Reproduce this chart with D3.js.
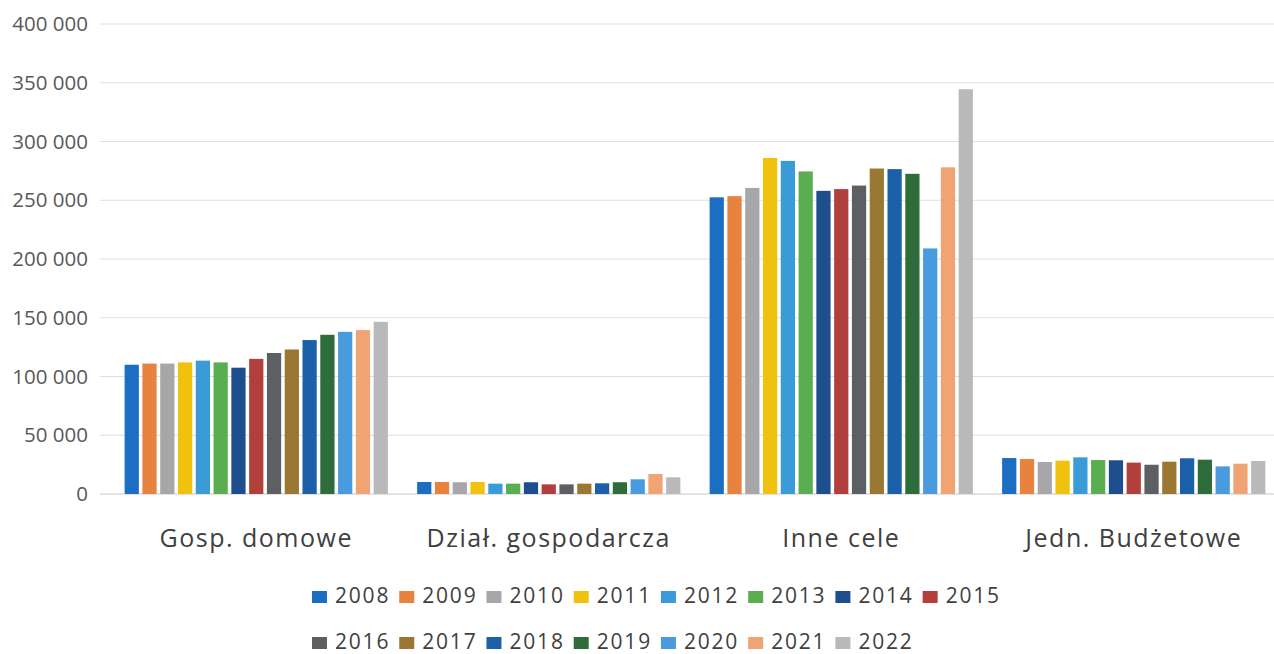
<!DOCTYPE html>
<html><head><meta charset="utf-8">
<script src="https://cdn.jsdelivr.net/npm/d3@7"></script>
<style>body{margin:0;background:#fff}svg{display:block}text{font-family:"Open Sans",sans-serif}</style>
</head><body><svg id="c" width="1274" height="654"></svg>
<script>
const categories = ["Gosp. domowe","Dział. gospodarcza","Inne cele","Jedn. Budżetowe"];
const years = ["2008","2009","2010","2011","2012","2013","2014","2015","2016","2017","2018","2019","2020","2021","2022"];
const gospDomowe = [110000,111000,111000,112000,113500,112000,107500,115000,120000,123000,131000,135500,138000,139500,146500];
const dzialGosp = [10200,10200,10000,10200,8800,8800,10000,8200,8200,8800,9100,10000,12500,17000,14200];
const inneCele = [252500,253500,260500,286000,283500,274500,258000,259500,262500,277000,276500,272500,209000,278000,344500];
const jednBudz = [30600,29800,27200,28400,31200,28900,28700,26700,24900,27500,30400,29200,23500,25800,28100];
const seriesByCategory = [gospDomowe, dzialGosp, inneCele, jednBudz];
const yTicks = [0,50000,100000,150000,200000,250000,300000,350000,400000];
const colors = ["#1b6ec2","#e8823f","#a7a7a9","#f0c20e","#3b9bd8","#5bad51","#1f4e8e","#b1403c","#5e5f63","#9a7834","#1c60aa","#2e6c3b","#4a9ade","#f0a474","#b9b8ba"];

const svg = d3.select("#c");
const x0 = d3.scaleBand().domain(categories).range([110,1280]).paddingInner(0.1).paddingOuter(0.05);
const x1 = d3.scaleBand().domain(years).range([0,x0.bandwidth()]).paddingInner(0.2).paddingOuter(0);
const y = d3.scaleLinear().domain([0,400000]).range([494,24]);
const fmt = v => d3.format(",")(v).replace(/,/g," ");

// grid
svg.append("g").selectAll("line").data(yTicks).join("line")
  .attr("x1",100).attr("x2",1274).attr("y1",d=>y(d)).attr("y2",d=>y(d))
  .attr("stroke",d=>d===0?"#c8c8c8":"#dedede").attr("stroke-width",1);

// y axis labels
const yAxis = d3.axisLeft(y).tickValues(yTicks).tickFormat(fmt).tickSize(0).tickPadding(0);
const ga = svg.append("g").attr("transform","translate(88,0)").call(yAxis);
ga.select(".domain").remove();
ga.selectAll("text").attr("font-size",20.5).attr("fill","#595959").attr("font-family","'Open Sans',sans-serif");

// bars
categories.forEach((c,ci)=>{
  svg.append("g").attr("transform",`translate(${x0(c)},0)`)
    .selectAll("rect").data(seriesByCategory[ci]).join("rect")
    .attr("x",(d,i)=>x1(years[i])).attr("width",x1.bandwidth())
    .attr("y",d=>y(d)).attr("height",d=>y(0)-y(d))
    .attr("fill",(d,i)=>colors[i]);
});

// x axis labels
const xAxis = d3.axisBottom(x0).tickSize(0).tickPadding(0);
const gx = svg.append("g").attr("transform","translate(0,547)").call(xAxis);
gx.select(".domain").remove();
gx.selectAll("text").attr("font-size",25).attr("fill","#404040").attr("dy",0).attr("letter-spacing",1.5).attr("font-family","'Open Sans',sans-serif");

// legend
const row1 = years.slice(0,8), row2 = years.slice(8);
const legend = svg.append("g");
[[row1,603],[row2,649]].forEach(([row,ly],ri)=>{
  let lx = 312;
  row.forEach((yr,j)=>{
    const idx = ri*8+j;
    legend.append("rect").attr("x",lx).attr("y",ly-12).attr("width",15).attr("height",12).attr("fill",colors[idx]);
    const t = legend.append("text").attr("x",lx+23).attr("y",ly).attr("font-size",21).attr("letter-spacing",1.8).attr("fill","#404040").text(yr);
    lx += 23 + t.node().getComputedTextLength() + 9;
  });
});
</script></body></html>
